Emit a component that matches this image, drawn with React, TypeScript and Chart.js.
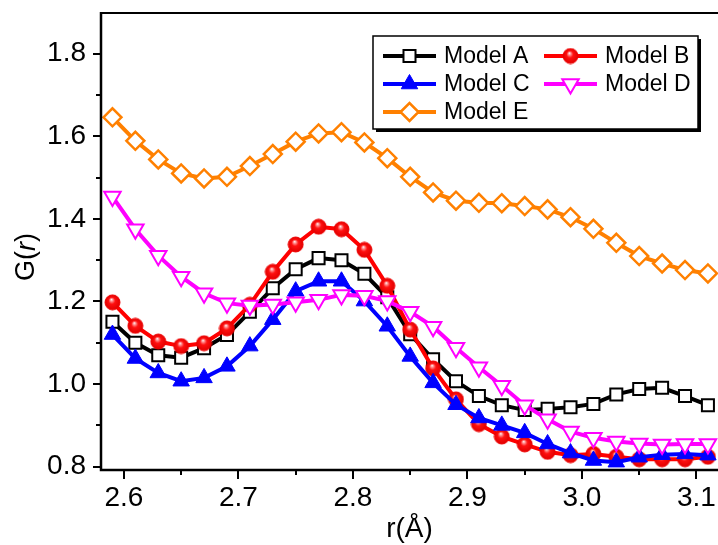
import React, { useEffect, useRef } from 'react';
import { Chart, registerables } from 'chart.js';
import { drawPoint } from 'chart.js/helpers';

Chart.register(...registerables);

// ---------- data ----------
const R = [2.59, 2.61, 2.63, 2.65, 2.67, 2.69, 2.71, 2.73, 2.75, 2.77, 2.79, 2.81, 2.83, 2.85, 2.87, 2.89, 2.91, 2.93, 2.95, 2.97, 2.99, 3.01, 3.03, 3.05, 3.07, 3.09, 3.11];

const MODEL_A = [1.151, 1.100, 1.070, 1.064, 1.087, 1.119, 1.175, 1.232, 1.278, 1.305, 1.300, 1.267, 1.210, 1.121, 1.060, 1.007, 0.971, 0.949, 0.937, 0.940, 0.944, 0.952, 0.975, 0.988, 0.991, 0.971, 0.949];
const MODEL_B = [1.198, 1.141, 1.103, 1.092, 1.099, 1.135, 1.192, 1.272, 1.338, 1.381, 1.375, 1.325, 1.238, 1.132, 1.038, 0.963, 0.903, 0.873, 0.854, 0.836, 0.828, 0.831, 0.824, 0.818, 0.818, 0.818, 0.824];
const MODEL_C = [1.120, 1.062, 1.027, 1.007, 1.015, 1.043, 1.092, 1.156, 1.225, 1.249, 1.249, 1.201, 1.140, 1.067, 1.003, 0.950, 0.918, 0.900, 0.882, 0.855, 0.833, 0.815, 0.811, 0.823, 0.829, 0.831, 0.828];
const MODEL_D = [1.454, 1.375, 1.311, 1.260, 1.220, 1.196, 1.190, 1.193, 1.198, 1.204, 1.216, 1.214, 1.201, 1.175, 1.139, 1.088, 1.041, 0.996, 0.949, 0.915, 0.885, 0.870, 0.861, 0.856, 0.854, 0.855, 0.855];
const MODEL_E = [1.646, 1.589, 1.544, 1.510, 1.498, 1.502, 1.528, 1.557, 1.587, 1.607, 1.610, 1.585, 1.547, 1.502, 1.464, 1.444, 1.439, 1.438, 1.431, 1.423, 1.404, 1.376, 1.342, 1.310, 1.292, 1.276, 1.268];

const SERIES_NAMES = ['Model A', 'Model B', 'Model C', 'Model D', 'Model E'];

const X_MAJOR = [2.6, 2.7, 2.8, 2.9, 3.0, 3.1];
const X_LABELS = ['2.6', '2.7', '2.8', '2.9', '3.0', '3.1'];
const X_MINOR = [2.65, 2.75, 2.85, 2.95, 3.05];
const Y_MAJOR = [0.8, 1.0, 1.2, 1.4, 1.6, 1.8];
const Y_LABELS = ['0.8', '1.0', '1.2', '1.4', '1.6', '1.8'];
const Y_MINOR = [0.9, 1.1, 1.3, 1.5, 1.7];

const X_MIN = 2.58;
const X_MAX = 3.1188;
const Y_MIN = 0.792;
const Y_MAX = 1.8985;

const FONT = "'Liberation Sans', Arial, sans-serif";

function makeSphere(r: number): HTMLCanvasElement {
  const c = document.createElement('canvas');
  const s = Math.ceil(r * 2 + 2);
  c.width = s;
  c.height = s;
  const g = c.getContext('2d')!;
  const cx = s / 2;
  const cy = s / 2;
  const grad = g.createRadialGradient(cx - r * 0.15, cy - r * 0.4, 0, cx, cy, r);
  grad.addColorStop(0, '#ffffff');
  grad.addColorStop(0.22, '#ff8080');
  grad.addColorStop(0.45, '#ff1010');
  grad.addColorStop(1, '#e00000');
  g.beginPath();
  g.arc(cx, cy, r, 0, Math.PI * 2);
  g.fillStyle = grad;
  g.fill();
  g.lineWidth = 1;
  g.strokeStyle = '#ee0000';
  g.stroke();
  return c;
}

function toPts(ys: number[]) {
  return R.map((x, i) => ({ x, y: ys[i] }));
}

const framePlugin = {
  id: 'frame',
  afterDatasetsDraw(chart: any) {
    const { ctx, chartArea } = chart;
    const xs = chart.scales.x;
    const ys = chart.scales.y;
    const L = chartArea.left;
    const B = chartArea.bottom;
    const T = chartArea.top;
    const Rt = chartArea.right;
    ctx.save();
    ctx.strokeStyle = '#000';
    ctx.lineWidth = 2;
    ctx.beginPath();
    ctx.moveTo(L, T);
    ctx.lineTo(Rt, T);
    ctx.stroke();
    ctx.lineWidth = 2.5;
    ctx.beginPath();
    ctx.moveTo(L, T - 1);
    ctx.lineTo(L, B);
    ctx.lineTo(Rt, B);
    ctx.stroke();
    ctx.lineWidth = 2;
    ctx.beginPath();
    X_MAJOR.forEach((v) => {
      const p = Math.round(xs.getPixelForValue(v));
      ctx.moveTo(p, B);
      ctx.lineTo(p, B + 9);
    });
    X_MINOR.forEach((v) => {
      const p = Math.round(xs.getPixelForValue(v));
      ctx.moveTo(p, B);
      ctx.lineTo(p, B + 5);
    });
    Y_MAJOR.forEach((v) => {
      const p = Math.round(ys.getPixelForValue(v));
      ctx.moveTo(L, p);
      ctx.lineTo(L - 8, p);
    });
    Y_MINOR.forEach((v) => {
      const p = Math.round(ys.getPixelForValue(v));
      ctx.moveTo(L, p);
      ctx.lineTo(L - 5, p);
    });
    ctx.stroke();

    // axis titles
    ctx.fillStyle = '#000';
    ctx.textBaseline = 'middle';
    ctx.textAlign = 'center';
    ctx.font = `28px ${FONT}`;
    ctx.fillText('r(Å)', (L + Rt) / 2, 529);

    ctx.save();
    ctx.translate(27, 257);
    ctx.rotate(-Math.PI / 2);
    const parts = [
      { t: 'G(', f: `27px ${FONT}` },
      { t: 'r', f: `italic 27px ${FONT}` },
      { t: ')', f: `27px ${FONT}` },
    ];
    let total = 0;
    parts.forEach((p) => {
      ctx.font = p.f;
      total += ctx.measureText(p.t).width;
    });
    let x0 = -total / 2;
    ctx.textAlign = 'left';
    parts.forEach((p) => {
      ctx.font = p.f;
      ctx.fillText(p.t, x0, 0);
      x0 += ctx.measureText(p.t).width;
    });
    ctx.restore();

    // legend
    const bx = 373, by = 36, bw = 325, bh = 93;
    ctx.fillStyle = '#ffffff';
    ctx.fillRect(bx, by, bw, bh);
    ctx.fillStyle = '#000';
    ctx.fillRect(bx + bw, by + 3, 3, bh);
    ctx.fillRect(bx + 3, by + bh, bw, 3);
    ctx.lineWidth = 1.5;
    ctx.strokeRect(bx, by, bw, bh);

    const cols = [
      { x0: 383, x1: 436, tx: 444 },
      { x0: 544, x1: 597, tx: 605 },
    ];
    const rows = [56, 84, 112];
    const slots = [
      [0, 0],
      [1, 0],
      [0, 1],
      [1, 1],
      [0, 2],
    ];
    chart.data.datasets.forEach((ds: any, i: number) => {
      const [c, r] = slots[i];
      const col = cols[c];
      const y = rows[r];
      ctx.strokeStyle = ds.borderColor;
      ctx.lineWidth = ds.borderWidth;
      ctx.beginPath();
      ctx.moveTo(col.x0, y);
      ctx.lineTo(col.x1, y);
      ctx.stroke();
      const mx = (col.x0 + col.x1) / 2;
      ctx.fillStyle = ds.pointBackgroundColor;
      ctx.strokeStyle = ds.pointBorderColor;
      ctx.lineWidth = ds.pointBorderWidth;
      drawPoint(ctx, {
        pointStyle: ds.pointStyle,
        rotation: ds.pointRotation || 0,
        radius: ds.pointRadius,
        borderWidth: ds.pointBorderWidth,
      } as any, mx, y);
      ctx.fillStyle = '#000';
      ctx.font = `23px ${FONT}`;
      ctx.textAlign = 'left';
      ctx.textBaseline = 'middle';
      ctx.fillText(ds.label, col.tx, y + 1);
    });
    ctx.restore();
  },
};

function noPad(axis: any) {
  axis.paddingTop = 0;
  axis.paddingBottom = 0;
  axis.paddingLeft = 0;
  axis.paddingRight = 0;
}

export default function App() {
  const ref = useRef<HTMLCanvasElement | null>(null);
  useEffect(() => {
    if (!ref.current) return;
    const sphere = makeSphere(7.5);
    const common = { borderWidth: 4, tension: 0, fill: false };
    const chart = new Chart(ref.current, {
      type: 'line',
      data: {
        datasets: [
          {
            ...common,
            label: SERIES_NAMES[0],
            data: toPts(MODEL_A),
            borderColor: '#000000',
            backgroundColor: '#ffffff',
            pointBackgroundColor: '#ffffff',
            pointBorderColor: '#000000',
            pointStyle: 'rect',
            pointRadius: 8.5,
            pointBorderWidth: 2,
            order: 5,
          },
          {
            ...common,
            label: SERIES_NAMES[1],
            data: toPts(MODEL_B),
            borderColor: '#ff0000',
            backgroundColor: '#ff0000',
            pointBackgroundColor: '#ff0000',
            pointBorderColor: '#ff0000',
            pointStyle: sphere,
            pointRadius: 7.5,
            pointBorderWidth: 1,
            order: 4,
          },
          {
            ...common,
            label: SERIES_NAMES[2],
            data: toPts(MODEL_C),
            borderColor: '#0000ff',
            backgroundColor: '#0000ff',
            pointBackgroundColor: '#0000ff',
            pointBorderColor: '#0000ff',
            pointStyle: 'triangle',
            pointRadius: 9.5,
            pointBorderWidth: 1,
            order: 3,
          },
          {
            ...common,
            label: SERIES_NAMES[3],
            data: toPts(MODEL_D),
            borderColor: '#ff00ff',
            backgroundColor: '#ffffff',
            pointBackgroundColor: '#ffffff',
            pointBorderColor: '#ff00ff',
            pointStyle: 'triangle',
            pointRotation: 180,
            pointRadius: 9.5,
            pointBorderWidth: 2,
            order: 2,
          },
          {
            ...common,
            label: SERIES_NAMES[4],
            data: toPts(MODEL_E),
            borderColor: '#ff8000',
            backgroundColor: '#ffffff',
            pointBackgroundColor: '#ffffff',
            pointBorderColor: '#ff8000',
            pointStyle: 'rectRot',
            pointRadius: 9,
            pointBorderWidth: 2.5,
            order: 1,
          },
        ] as any,
      },
      options: {
        animation: false,
        responsive: false,
        events: [],
        layout: { autoPadding: false, padding: { top: 13, right: 0, left: 0, bottom: 0 } },
        plugins: { legend: { display: false }, tooltip: { enabled: false } },
        scales: {
          x: {
            type: 'linear',
            min: X_MIN,
            max: X_MAX,
            grid: { display: false, drawTicks: false, tickLength: 0 },
            border: { display: false },
            afterBuildTicks: (axis: any) => {
              axis.ticks = X_MAJOR.map((v) => ({ value: v }));
            },
            afterFit: (axis: any) => {
              axis.height = 75;
              noPad(axis);
            },
            ticks: {
              autoSkip: false,
              maxRotation: 0,
              padding: 11,
              color: '#000',
              font: { family: FONT, size: 28 },
              callback: (_v: any, i: number) => X_LABELS[i],
            },
          },
          y: {
            type: 'linear',
            min: Y_MIN,
            max: Y_MAX,
            grid: { display: false, drawTicks: false, tickLength: 0 },
            border: { display: false },
            afterBuildTicks: (axis: any) => {
              axis.ticks = Y_MAJOR.map((v) => ({ value: v }));
            },
            afterFit: (axis: any) => {
              axis.width = 101;
              noPad(axis);
            },
            ticks: {
              autoSkip: false,
              padding: 15,
              color: '#000',
              font: { family: FONT, size: 28 },
              callback: (_v: any, i: number) => Y_LABELS[i],
            },
          },
        },
      },
      plugins: [framePlugin],
    });
    return () => chart.destroy();
  }, []);

  return (
    <div style={{ position: 'fixed', left: 0, top: 0, width: 718, height: 545, background: '#fff' }}>
      <canvas ref={ref} width={718} height={545} style={{ display: 'block' }} />
    </div>
  );
}
